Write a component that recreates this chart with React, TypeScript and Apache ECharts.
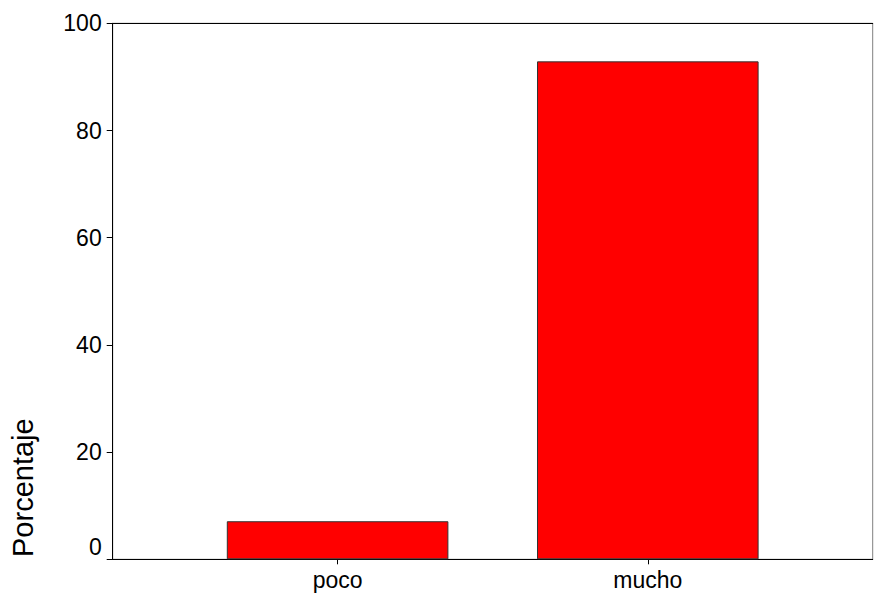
import React, { useEffect, useRef } from "react";
import * as echarts from "echarts";

const categories = ["poco", "mucho"];
const positions = [1, 2];
const values = [7.1, 92.9];
const yTicks = [0, 20, 40, 60, 80, 100];
const yAxisTitle = "Porcentaje";

const FONT = "'Liberation Sans', Arial, sans-serif";

export default function App() {
  const ref = useRef<HTMLDivElement>(null);
  useEffect(() => {
    document.body.style.margin = "0";
    const chart = echarts.init(ref.current!, null, { renderer: "svg" });
    const option: any = {
      animation: false,
      backgroundColor: "#ffffff",
      grid: {
        left: 112.7,
        right: 1.3,
        top: 23.3,
        bottom: 48.7,
        show: true,
        borderColor: "#808080",
        borderWidth: 1,
      },
      xAxis: [
        {
          type: "value",
          min: 0.275,
          max: 2.725,
          splitLine: { show: false },
          axisLine: { show: true, onZero: false, lineStyle: { color: "#000", width: 1 } },
          axisTick: {
            show: true,
            customValues: positions,
            length: 5,
            lineStyle: { color: "#000" },
          },
          axisLabel: {
            customValues: positions,
            margin: 9,
            fontSize: 23,
            fontFamily: FONT,
            color: "#000",
            formatter: (v: number) => {
              const i = positions.indexOf(Math.round(v));
              return i >= 0 ? categories[i] : "";
            },
          },
        },
        {
          type: "value",
          position: "top",
          min: 0.275,
          max: 2.725,
          splitLine: { show: false },
          axisLine: { show: true, onZero: false, lineStyle: { color: "#000", width: 1 } },
          axisTick: { show: false },
          axisLabel: { show: false },
        },
      ],
      yAxis: {
        type: "value",
        min: yTicks[0],
        max: yTicks[yTicks.length - 1],
        interval: 20,
        splitLine: { show: false },
        axisLine: { show: true, lineStyle: { color: "#000", width: 1 } },
        axisTick: { show: true, length: 6, lineStyle: { color: "#000" } },
        axisLabel: {
          margin: 11,
          fontSize: 23,
          fontFamily: FONT,
          color: "#000",
          formatter: (v: number) => (v === yTicks[0] ? "{z|" + v + "}" : String(v)),
          rich: {
            z: {
              fontSize: 23,
              fontFamily: FONT,
              color: "#000",
              padding: [0, 0, 24, 0],
            },
          },
        },
      },
      graphic: [
        {
          type: "text",
          x: 23,
          y: 557,
          rotation: Math.PI / 2,
          style: {
            text: yAxisTitle,
            fontSize: 29,
            fontFamily: FONT,
            fill: "#000",
            textAlign: "left",
            textVerticalAlign: "middle",
          },
        },
      ],
      series: [
        {
          type: "bar",
          xAxisIndex: 0,
          barWidth: 221.6,
          data: positions.map((p, i) => [p, values[i]]),
          itemStyle: {
            color: "#ff0000",
            borderColor: "#333333",
            borderWidth: 1,
          },
        },
      ],
    };
    chart.setOption(option);
    return () => chart.dispose();
  }, []);
  return <div ref={ref} style={{ width: 874, height: 608 }} />;
}
